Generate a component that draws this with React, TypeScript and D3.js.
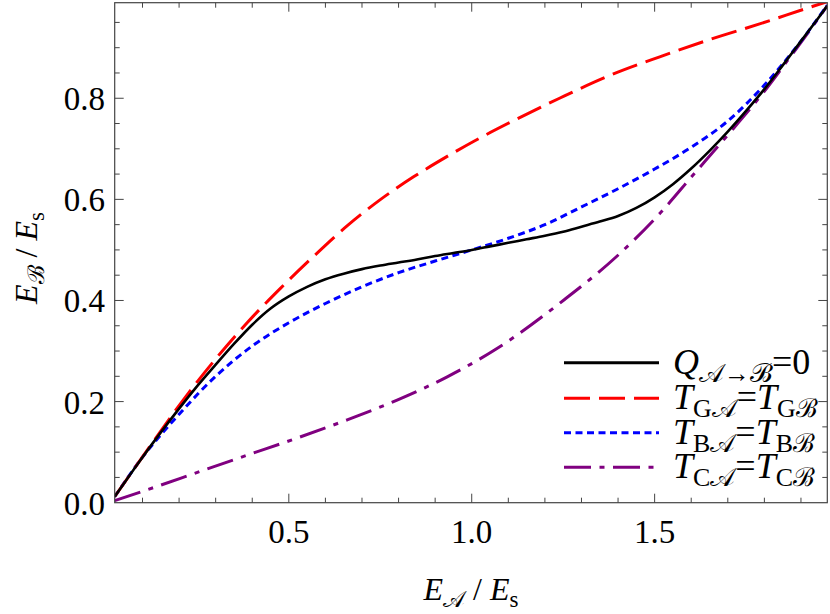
import React from "react";
import * as d3 from "d3";

// ---- data ----
const blackX = [0.024, 0.1, 0.2, 0.25, 0.3, 0.35, 0.4, 0.45, 0.5, 0.55, 0.6, 0.65, 0.7, 0.75, 0.8, 0.85, 0.9, 0.95, 1.0, 1.05, 1.1, 1.15, 1.2, 1.25, 1.3, 1.35, 1.4, 1.45, 1.5, 1.55, 1.6, 1.65, 1.7, 1.75, 1.8, 1.85, 1.9, 1.95, 1.972];
const blackY = [0.012, 0.090, 0.186, 0.231, 0.273, 0.314, 0.352, 0.384, 0.408, 0.427, 0.442, 0.453, 0.462, 0.469, 0.475, 0.481, 0.488, 0.494, 0.500, 0.507, 0.514, 0.521, 0.528, 0.536, 0.546, 0.556, 0.567, 0.583, 0.604, 0.630, 0.661, 0.696, 0.734, 0.775, 0.818, 0.865, 0.913, 0.961, 0.983];

const redX = [0.024, 0.113, 0.204, 0.295, 0.386, 0.477, 0.560, 0.660, 0.751, 0.842, 0.933, 1.006, 1.104, 1.240, 1.377, 1.514, 1.650, 1.787, 1.933, 1.972];
const redY = [0.012, 0.104, 0.196, 0.280, 0.356, 0.424, 0.482, 0.548, 0.600, 0.645, 0.685, 0.715, 0.752, 0.800, 0.845, 0.882, 0.916, 0.947, 0.982, 0.991];

const blueX = [0.024, 0.1, 0.2, 0.3, 0.4, 0.5, 0.6, 0.7, 0.8, 0.9, 1.0, 1.1, 1.2, 1.3, 1.4, 1.5, 1.6, 1.7, 1.8, 1.9, 1.972];
const blueY = [0.012, 0.090, 0.175, 0.250, 0.310, 0.356, 0.394, 0.427, 0.455, 0.478, 0.500, 0.523, 0.550, 0.585, 0.621, 0.660, 0.703, 0.755, 0.826, 0.913, 0.984];

const purpleX = [0.024, 0.131, 0.250, 0.386, 0.523, 0.660, 0.796, 0.933, 1.069, 1.252, 1.396, 1.514, 1.605, 1.696, 1.787, 1.878, 1.933, 1.972];
const purpleY = [0.004, 0.030, 0.060, 0.094, 0.128, 0.164, 0.203, 0.249, 0.305, 0.401, 0.487, 0.572, 0.648, 0.724, 0.802, 0.889, 0.943, 0.983];

const xTickLabels = ["0.5", "1.0", "1.5"];
const yTickLabels = ["0.0", "0.2", "0.4", "0.6", "0.8"];
const xDomain = [0.024, 1.972];
const yDomain = [0, 0.989];

type Part = { t: string; i?: boolean; sub?: boolean };

const legendItems: { color: string; dash: string; parts: Part[] }[] = [
  { color: "#000000", dash: "none", parts: [{ t: "Q", i: true }, { t: "𝒜→ℬ", sub: true }, { t: "=0" }] },
  { color: "#ff0000", dash: "26 9", parts: [{ t: "T", i: true }, { t: "G𝒜", sub: true }, { t: "=" }, { t: "T", i: true }, { t: "Gℬ", sub: true }] },
  { color: "#0000ff", dash: "7 4.5", parts: [{ t: "T", i: true }, { t: "B𝒜", sub: true }, { t: "=" }, { t: "T", i: true }, { t: "Bℬ", sub: true }] },
  { color: "#800080", dash: "27 8.5 5 8.5", parts: [{ t: "T", i: true }, { t: "C𝒜", sub: true }, { t: "=" }, { t: "T", i: true }, { t: "Cℬ", sub: true }] },
];

const FONT = "'Liberation Serif', 'Times New Roman', serif";

function MathText({ parts, size, subScale = 0.72, subShift = 0.22, ...rest }: any) {
  const nodes: any[] = [];
  let inSub = false;
  parts.forEach((p: Part, k: number) => {
    let dy = 0;
    if (p.sub && !inSub) dy = size * subShift;
    if (!p.sub && inSub) dy = -size * subShift;
    inSub = !!p.sub;
    nodes.push(
      <tspan key={k} dy={dy} fontStyle={p.i ? "italic" : "normal"} fontSize={p.sub ? size * subScale : size}>
        {p.t}
      </tspan>
    );
  });
  return (
    <text fontFamily={FONT} fontSize={size} {...rest}>
      {nodes}
    </text>
  );
}

export default function App() {
  const W = 830, H = 614;
  const L = 114.7, R = 827.3, T = 2.7, B = 502.7;
  const x = d3.scaleLinear().domain(xDomain).range([L, R]);
  const y = d3.scaleLinear().domain(yDomain).range([B, T]);

  const line = d3
    .line<[number, number]>()
    .x((d) => x(d[0]))
    .y((d) => y(d[1]))
    .curve(d3.curveMonotoneX);

  const series = [
    { xs: purpleX, ys: purpleY, color: "#800080", dash: "27 8.5 5 8.5" },
    { xs: blueX, ys: blueY, color: "#0000ff", dash: "7 4.5" },
    { xs: redX, ys: redY, color: "#ff0000", dash: "26 9" },
    { xs: blackX, ys: blackY, color: "#000000", dash: "none" },
  ];

  const xMinor = d3.range(1, 20).map((v) => v / 10).filter((v) => v > xDomain[0] && v < xDomain[1]);
  const yMinor = d3.range(1, 20).map((v) => v / 20).filter((v) => v > yDomain[0] && v < yDomain[1]);
  const xMajor = xTickLabels.map(Number);
  const yMajor = yTickLabels.map(Number);
  const frame = "#444";

  return (
    <svg width={W} height={H} style={{ position: "absolute", left: 0, top: 0, background: "#fff" }}>
      <defs>
        <clipPath id="plot">
          <rect x={L} y={T} width={R - L} height={B - T} />
        </clipPath>
      </defs>
      {/* ticks */}
      <g stroke={frame} strokeWidth={1}>
        {xMinor.map((v) => {
          const len = xMajor.some((m) => Math.abs(m - v) < 1e-9) ? 9 : 5;
          return (
            <g key={"x" + v}>
              <line x1={x(v)} x2={x(v)} y1={B} y2={B - len} />
              <line x1={x(v)} x2={x(v)} y1={T} y2={T + len} />
            </g>
          );
        })}
        {yMinor.map((v) => {
          const len = yMajor.some((m) => Math.abs(m - v) < 1e-9) ? 9 : 5;
          return (
            <g key={"y" + v}>
              <line x1={L} x2={L + len} y1={y(v)} y2={y(v)} />
              <line x1={R} x2={R - len} y1={y(v)} y2={y(v)} />
            </g>
          );
        })}
      </g>
      {/* curves */}
      <g clipPath="url(#plot)" fill="none">
        {series.map((s, k) => (
          <path
            key={k}
            d={line(s.xs.map((v, i) => [v, s.ys[i]] as [number, number])) || ""}
            stroke={s.color}
            strokeWidth={s.dash === "none" ? 2.6 : 3}
            strokeDasharray={s.dash}
          />
        ))}
      </g>
      {/* frame */}
      <rect x={L} y={T} width={R - L} height={B - T} fill="none" stroke={frame} strokeWidth={1.2} />
      {/* tick labels */}
      <g fontFamily={FONT} fontSize={33} fill="#000">
        {xTickLabels.map((t) => (
          <text key={t} x={x(+t)} y={543} textAnchor="middle">
            {t}
          </text>
        ))}
        {yTickLabels.map((t) => (
          <text key={t} x={105} y={y(+t) + 12} textAnchor="end">
            {t}
          </text>
        ))}
      </g>
      {/* axis labels */}
      <MathText
        parts={[{ t: "E", i: true }, { t: "𝒜", sub: true }, { t: " / " }, { t: "E", i: true }, { t: "s", sub: true }]}
        size={32}
        x={471}
        y={600}
        textAnchor="middle"
      />
      <MathText
        parts={[{ t: "E", i: true }, { t: "ℬ", sub: true }, { t: " / " }, { t: "E", i: true }, { t: "s", sub: true }]}
        size={32}
        x={0}
        y={0}
        textAnchor="middle"
        transform="translate(37,258) rotate(-90)"
      />
      {/* legend */}
      {legendItems.map((it, k) => {
        const yy = [362.7, 398.3, 432.7, 467.3][k];
        return (
          <g key={k}>
            <line x1={564} x2={659} y1={yy} y2={yy} stroke={it.color} strokeWidth={3} strokeDasharray={it.dash} />
            <MathText parts={it.parts} size={36} x={673} y={yy + 11} />
          </g>
        );
      })}
    </svg>
  );
}
